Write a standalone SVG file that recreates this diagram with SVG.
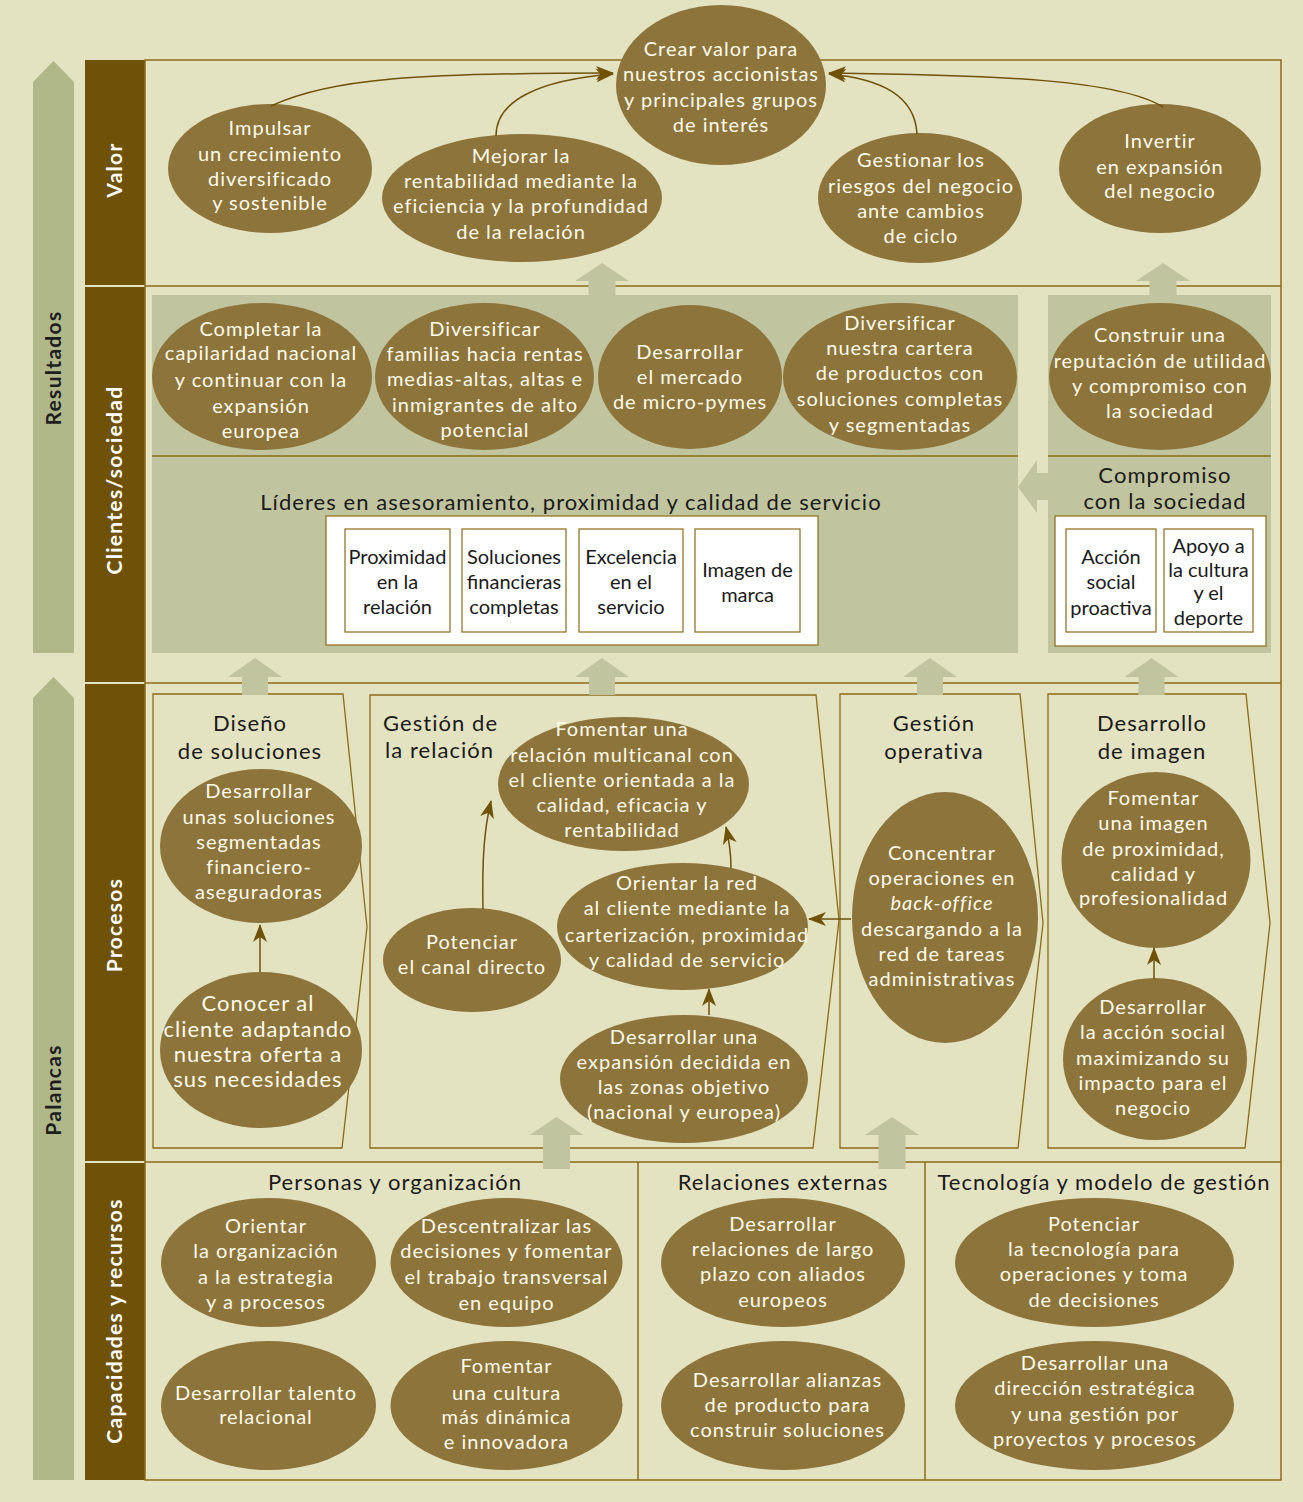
<svg xmlns="http://www.w3.org/2000/svg" width="1303" height="1502" viewBox="0 0 1303 1502">
<style>
.bg{fill:#E4E3C1}
.side{fill:#B0B88A}
.bar{fill:#6F5208}
.frame{fill:none;stroke:#8C6B16;stroke-width:1.5}
.panel{fill:#C0C59F}
.wbox{fill:#FFFFFF;stroke:#8C6B16;stroke-width:1.2}
.pbox{fill:none;stroke:#8C6B16;stroke-width:1.3}
.up{fill:#C0C59F}
.n{fill:#8D743B}
.t{font-family:Lato,"Open Sans",sans-serif;font-size:20px;letter-spacing:1px;fill:#FFFBEA;text-anchor:middle}
.tb{font-family:Lato,"Open Sans",sans-serif;font-size:22px;letter-spacing:1px;fill:#FFFBEA;text-anchor:middle}
.k{font-family:Lato,"Open Sans",sans-serif;font-size:20px;fill:#1A1A1A;text-anchor:middle}
.h{font-family:Lato,"Open Sans",sans-serif;font-size:22px;letter-spacing:1.05px;fill:#1A1A1A;text-anchor:middle}
.vl{font-family:Lato,"Open Sans",sans-serif;font-size:21px;font-weight:bold;letter-spacing:1.3px;text-anchor:middle}
.c{fill:none;stroke:#6F5208;stroke-width:1.5}
</style>
<defs>
<marker id="ah" viewBox="0 0 18 14" refX="17" refY="7" markerWidth="18" markerHeight="14" markerUnits="userSpaceOnUse" orient="auto">
<path d="M0,0 L18,7 L0,14 L5,7 Z" fill="#6F5208"/>
</marker>
</defs>
<rect class="bg" x="0" y="0" width="1303" height="1502"/>

<!-- side arrows -->
<polygon class="side" points="33,82 53.5,61 74,82 74,653 33,653"/>
<polygon class="side" points="33,698 53.5,677 74,698 74,1480 33,1480"/>
<text class="vl" fill="#1E1E1E" x="61" y="368" transform="rotate(-90 61 368)">Resultados</text>
<text class="vl" fill="#1E1E1E" x="61" y="1090" transform="rotate(-90 61 1090)">Palancas</text>

<!-- dark bar -->
<rect class="bar" x="85" y="60" width="60" height="225"/>
<rect class="bar" x="85" y="287" width="60" height="395"/>
<rect class="bar" x="85" y="684" width="60" height="477"/>
<rect class="bar" x="85" y="1163" width="60" height="317"/>
<text class="vl" fill="#FFFFFF" x="122" y="170" transform="rotate(-90 122 170)">Valor</text>
<text class="vl" fill="#FFFFFF" x="122" y="480" transform="rotate(-90 122 480)">Clientes/sociedad</text>
<text class="vl" fill="#FFFFFF" x="122" y="925" transform="rotate(-90 122 925)">Procesos</text>
<text class="vl" fill="#FFFFFF" x="122" y="1321" transform="rotate(-90 122 1321)">Capacidades y recursos</text>

<!-- panels -->
<rect class="panel" x="152" y="295" width="866" height="358"/>
<rect class="panel" x="1048" y="295" width="223" height="358"/>
<line class="frame" x1="152" y1="456" x2="1018" y2="456"/>
<line class="frame" x1="1048" y1="456" x2="1271" y2="456"/>
<polygon class="up" points="1018,487 1037,460 1037,473 1048,473 1048,500 1037,500 1037,513"/>

<!-- frame -->
<rect class="frame" x="145" y="60" width="1136" height="1420"/>
<line class="frame" x1="145" y1="286" x2="1281" y2="286"/>
<line class="frame" x1="145" y1="683" x2="1281" y2="683"/>
<line class="frame" x1="145" y1="1162" x2="1281" y2="1162"/>
<line class="frame" x1="638" y1="1162" x2="638" y2="1480"/>
<line class="frame" x1="925" y1="1162" x2="925" y2="1480"/>

<!-- white boxes -->
<g id="lideres">
<text class="h" x="571" y="510">Líderes en asesoramiento, proximidad y calidad de servicio</text>
<rect class="wbox" x="326" y="516" width="492" height="129"/>
<rect class="wbox" x="345" y="529" width="105" height="103"/>
<rect class="wbox" x="462" y="529" width="104" height="103"/>
<rect class="wbox" x="579" y="529" width="104" height="103"/>
<rect class="wbox" x="695" y="529" width="105" height="103"/>
<text class="k"><tspan x="397.5" y="564">Proximidad</tspan><tspan x="397.5" y="589">en la</tspan><tspan x="397.5" y="614">relación</tspan></text>
<text class="k"><tspan x="514" y="564">Soluciones</tspan><tspan x="514" y="589">financieras</tspan><tspan x="514" y="614">completas</tspan></text>
<text class="k"><tspan x="631" y="564">Excelencia</tspan><tspan x="631" y="589">en el</tspan><tspan x="631" y="614">servicio</tspan></text>
<text class="k"><tspan x="747.5" y="577">Imagen de</tspan><tspan x="747.5" y="602">marca</tspan></text>
</g>
<g id="compromiso">
<text class="h"><tspan x="1165" y="483">Compromiso</tspan><tspan x="1165" y="509">con la sociedad</tspan></text>
<rect class="wbox" x="1055" y="516" width="211" height="130"/>
<rect class="wbox" x="1066" y="529" width="90" height="103"/>
<rect class="wbox" x="1164" y="529" width="89" height="103"/>
<text class="k"><tspan x="1111" y="564">Acción</tspan><tspan x="1111" y="589">social</tspan><tspan x="1111" y="615">proactiva</tspan></text>
<text class="k"><tspan x="1208.5" y="553">Apoyo a</tspan><tspan x="1208.5" y="577">la cultura</tspan><tspan x="1208.5" y="600">y el</tspan><tspan x="1208.5" y="625">deporte</tspan></text>
</g>

<!-- process boxes -->
<g id="p-diseno">
<polygon class="pbox" points="153,694 343,694 367,927 342,1148 153,1148"/>
<text class="h"><tspan x="250" y="731">Diseño</tspan><tspan x="250" y="759">de soluciones</tspan></text>
</g>
<g id="p-relacion">
<polygon class="pbox" points="370,695 816,695 839,920 813,1148 370,1148"/>
<text class="h" style="text-anchor:start"><tspan x="383" y="731">Gestión de</tspan><tspan x="385" y="758">la relación</tspan></text>
</g>
<g id="p-operativa">
<polygon class="pbox" points="840,694 1020,694 1043,923 1018,1148 840,1148"/>
<text class="h"><tspan x="934" y="731">Gestión</tspan><tspan x="934" y="759">operativa</tspan></text>
</g>
<g id="p-imagen">
<polygon class="pbox" points="1048,694 1246,694 1270,923 1245,1148 1048,1148"/>
<text class="h"><tspan x="1152" y="731">Desarrollo</tspan><tspan x="1152" y="759">de imagen</tspan></text>
</g>

<!-- capacity headers -->
<text class="h" x="395" y="1190">Personas y organización</text>
<text class="h" x="783" y="1190">Relaciones externas</text>
<text class="h" x="1104" y="1190">Tecnología y modelo de gestión</text>

<!-- big up arrows -->
<g id="flow-arrows">
<polygon class="up" points="602,263 629,281 615.5,281 615.5,296 588.5,296 588.5,281 575,281"/>
<polygon class="up" points="1163,263 1190,281 1176.5,281 1176.5,296 1149.5,296 1149.5,281 1136,281"/>
<polygon class="up" points="255,658 282,677 268,677 268,695 242,695 242,677 228,677"/>
<polygon class="up" points="602,658 629,677 615,677 615,695 589,695 589,677 575,677"/>
<polygon class="up" points="930,658 957,677 943,677 943,695 917,695 917,677 903,677"/>
<polygon class="up" points="1151.5,658 1178.5,677 1164.5,677 1164.5,695 1138.5,695 1138.5,677 1124.5,677"/>
<polygon class="up" points="556.5,1117 583.5,1135 570,1135 570,1169 543,1169 543,1135 529.5,1135"/>
<polygon class="up" points="892,1117 919,1135 905.5,1135 905.5,1169 878.5,1169 878.5,1135 865,1135"/>
</g>

<!-- Valor nodes -->
<g id="v-crear"><ellipse class="n" cx="721" cy="85" rx="105" ry="80"/>
<text class="t"><tspan x="721" y="56">Crear valor para</tspan><tspan x="721" y="81">nuestros accionistas</tspan><tspan x="721" y="107">y principales grupos</tspan><tspan x="721" y="132">de interés</tspan></text></g>
<g id="v-impulsar"><ellipse class="n" cx="270" cy="168.5" rx="102" ry="64.5"/>
<text class="t"><tspan x="270" y="135">Impulsar</tspan><tspan x="270" y="161">un crecimiento</tspan><tspan x="270" y="186">diversificado</tspan><tspan x="270" y="210">y sostenible</tspan></text></g>
<g id="v-mejorar"><ellipse class="n" cx="522" cy="198" rx="140" ry="64"/>
<text class="t"><tspan x="521" y="163">Mejorar la</tspan><tspan x="521" y="188">rentabilidad mediante la</tspan><tspan x="521" y="213">eficiencia y la profundidad</tspan><tspan x="521" y="239">de la relación</tspan></text></g>
<g id="v-gestionar"><ellipse class="n" cx="920" cy="198" rx="102" ry="65"/>
<text class="t"><tspan x="921" y="167">Gestionar los</tspan><tspan x="921" y="193">riesgos del negocio</tspan><tspan x="921" y="218">ante cambios</tspan><tspan x="921" y="243">de ciclo</tspan></text></g>
<g id="v-invertir"><ellipse class="n" cx="1160" cy="168.5" rx="101" ry="64.5"/>
<text class="t"><tspan x="1160" y="148">Invertir</tspan><tspan x="1160" y="174">en expansión</tspan><tspan x="1160" y="198">del negocio</tspan></text></g>

<!-- Clientes nodes -->
<g id="c-completar"><ellipse class="n" cx="262" cy="376.5" rx="110" ry="73.5"/>
<text class="t"><tspan x="261" y="336">Completar la</tspan><tspan x="261" y="360">capilaridad nacional</tspan><tspan x="261" y="387">y continuar con la</tspan><tspan x="261" y="413">expansión</tspan><tspan x="261" y="438">europea</tspan></text></g>
<g id="c-diversificar"><ellipse class="n" cx="484.5" cy="376.5" rx="109.5" ry="73.5"/>
<text class="t"><tspan x="485" y="336">Diversificar</tspan><tspan x="485" y="361">familias hacia rentas</tspan><tspan x="485" y="386">medias-altas, altas e</tspan><tspan x="485" y="412">inmigrantes de alto</tspan><tspan x="485" y="437">potencial</tspan></text></g>
<g id="c-micro"><ellipse class="n" cx="690" cy="377" rx="92" ry="72"/>
<text class="t"><tspan x="690" y="359">Desarrollar</tspan><tspan x="690" y="384">el mercado</tspan><tspan x="690" y="409">de micro-pymes</tspan></text></g>
<g id="c-cartera"><ellipse class="n" cx="900" cy="376.5" rx="117" ry="73.5"/>
<text class="t"><tspan x="900" y="330">Diversificar</tspan><tspan x="900" y="355">nuestra cartera</tspan><tspan x="900" y="380">de productos con</tspan><tspan x="900" y="406">soluciones completas</tspan><tspan x="900" y="432">y segmentadas</tspan></text></g>
<g id="c-reputacion"><ellipse class="n" cx="1160" cy="376.5" rx="111" ry="73.5"/>
<text class="t"><tspan x="1160" y="342">Construir una</tspan><tspan x="1160" y="368">reputación de utilidad</tspan><tspan x="1160" y="393">y compromiso con</tspan><tspan x="1160" y="418">la sociedad</tspan></text></g>

<!-- Procesos nodes -->
<g id="p-desarrollar-sol"><ellipse class="n" cx="261" cy="846" rx="101" ry="77"/>
<text class="t"><tspan x="259" y="798">Desarrollar</tspan><tspan x="259" y="824">unas soluciones</tspan><tspan x="259" y="849">segmentadas</tspan><tspan x="259" y="874">financiero-</tspan><tspan x="259" y="899">aseguradoras</tspan></text></g>
<g id="p-conocer"><ellipse class="n" cx="261" cy="1050" rx="101" ry="78"/>
<text class="tb"><tspan x="258" y="1011">Conocer al</tspan><tspan x="258" y="1037">cliente adaptando</tspan><tspan x="258" y="1062">nuestra oferta a</tspan><tspan x="258" y="1087">sus necesidades</tspan></text></g>
<g id="p-multicanal"><ellipse class="n" cx="623.5" cy="784" rx="125.5" ry="67"/>
<text class="t"><tspan x="622" y="736">Fomentar una</tspan><tspan x="622" y="762">relación multicanal con</tspan><tspan x="622" y="787">el cliente orientada a la</tspan><tspan x="622" y="812">calidad, eficacia y</tspan><tspan x="622" y="837">rentabilidad</tspan></text></g>
<g id="p-canal"><ellipse class="n" cx="472" cy="960" rx="89" ry="52"/>
<text class="t"><tspan x="472" y="949">Potenciar</tspan><tspan x="472" y="974">el canal directo</tspan></text></g>
<g id="p-red"><ellipse class="n" cx="682.5" cy="926.5" rx="125.5" ry="63.5"/>
<text class="t"><tspan x="687" y="890">Orientar la red</tspan><tspan x="687" y="915">al cliente mediante la</tspan><tspan x="687" y="942">carterización, proximidad</tspan><tspan x="687" y="967">y calidad de servicio</tspan></text></g>
<g id="p-expansion"><ellipse class="n" cx="684" cy="1079" rx="124" ry="64"/>
<text class="t"><tspan x="684" y="1044">Desarrollar una</tspan><tspan x="684" y="1069">expansión decidida en</tspan><tspan x="684" y="1094">las zonas objetivo</tspan><tspan x="684" y="1119">(nacional y europea)</tspan></text></g>
<g id="p-concentrar"><ellipse class="n" cx="945" cy="917.5" rx="93" ry="125.5"/>
<text class="t"><tspan x="942" y="860">Concentrar</tspan><tspan x="942" y="885">operaciones en</tspan><tspan x="942" y="910" font-style="italic">back-office</tspan><tspan x="942" y="936">descargando a la</tspan><tspan x="942" y="961">red de tareas</tspan><tspan x="942" y="986">administrativas</tspan></text></g>
<g id="p-fomentar-imagen"><ellipse class="n" cx="1156" cy="860" rx="94.5" ry="88"/>
<text class="t"><tspan x="1153.5" y="805">Fomentar</tspan><tspan x="1153.5" y="830">una imagen</tspan><tspan x="1153.5" y="856">de proximidad,</tspan><tspan x="1153.5" y="881">calidad y</tspan><tspan x="1153.5" y="905">profesionalidad</tspan></text></g>
<g id="p-accion-social"><ellipse class="n" cx="1155" cy="1059" rx="92" ry="81"/>
<text class="t"><tspan x="1153" y="1014">Desarrollar</tspan><tspan x="1153" y="1039">la acción social</tspan><tspan x="1153" y="1065">maximizando su</tspan><tspan x="1153" y="1090">impacto para el</tspan><tspan x="1153" y="1115">negocio</tspan></text></g>

<!-- Capacidades nodes -->
<g id="k-orientar"><ellipse class="n" cx="268.5" cy="1262.5" rx="107.5" ry="64.5"/>
<text class="t"><tspan x="266" y="1233">Orientar</tspan><tspan x="266" y="1258">la organización</tspan><tspan x="266" y="1284">a la estrategia</tspan><tspan x="266" y="1309">y a procesos</tspan></text></g>
<g id="k-descentralizar"><ellipse class="n" cx="506.5" cy="1262.5" rx="116" ry="64.5"/>
<text class="t"><tspan x="506.5" y="1233">Descentralizar las</tspan><tspan x="506.5" y="1258">decisiones y fomentar</tspan><tspan x="506.5" y="1284">el trabajo transversal</tspan><tspan x="506.5" y="1310">en equipo</tspan></text></g>
<g id="k-talento"><ellipse class="n" cx="268.5" cy="1405.5" rx="107.5" ry="64.5"/>
<text class="t"><tspan x="266" y="1400">Desarrollar talento</tspan><tspan x="266" y="1424">relacional</tspan></text></g>
<g id="k-cultura"><ellipse class="n" cx="506.5" cy="1405.5" rx="116" ry="64.5"/>
<text class="t"><tspan x="506.5" y="1373">Fomentar</tspan><tspan x="506.5" y="1400">una cultura</tspan><tspan x="506.5" y="1424">más dinámica</tspan><tspan x="506.5" y="1449">e innovadora</tspan></text></g>
<g id="k-relaciones"><ellipse class="n" cx="783" cy="1262.5" rx="122" ry="64.5"/>
<text class="t"><tspan x="783" y="1231">Desarrollar</tspan><tspan x="783" y="1256">relaciones de largo</tspan><tspan x="783" y="1281">plazo con aliados</tspan><tspan x="783" y="1307">europeos</tspan></text></g>
<g id="k-alianzas"><ellipse class="n" cx="783" cy="1405.5" rx="122" ry="64.5"/>
<text class="t"><tspan x="787.5" y="1387">Desarrollar alianzas</tspan><tspan x="787.5" y="1412">de producto para</tspan><tspan x="787.5" y="1437">construir soluciones</tspan></text></g>
<g id="k-tecnologia"><ellipse class="n" cx="1094.5" cy="1262.5" rx="139.5" ry="64.5"/>
<text class="t"><tspan x="1094" y="1231">Potenciar</tspan><tspan x="1094" y="1256">la tecnología para</tspan><tspan x="1094" y="1281">operaciones y toma</tspan><tspan x="1094" y="1307">de decisiones</tspan></text></g>
<g id="k-direccion"><ellipse class="n" cx="1094.5" cy="1405.5" rx="139.5" ry="64.5"/>
<text class="t"><tspan x="1095" y="1370">Desarrollar una</tspan><tspan x="1095" y="1395">dirección estratégica</tspan><tspan x="1095" y="1421">y una gestión por</tspan><tspan x="1095" y="1446">proyectos y procesos</tspan></text></g>

<!-- connectors -->
<g id="connectors">
<path class="c" d="M271,106 C330,78 420,73 613,73" marker-end="url(#ah)"/>
<path class="c" d="M496,136 C496,100 540,80 613,74" marker-end="url(#ah)"/>
<path class="c" d="M917,134 C915,96 882,79 829,74" marker-end="url(#ah)"/>
<path class="c" d="M1163,107 C1120,80 1000,75 829,73" marker-end="url(#ah)"/>
<path class="c" d="M260,972 L260,925" marker-end="url(#ah)"/>
<path class="c" d="M483,909 C482,860 484,830 491,801" marker-end="url(#ah)"/>
<path class="c" d="M731,868 C731,852 729,840 726,827" marker-end="url(#ah)"/>
<path class="c" d="M709,1015 L709,989" marker-end="url(#ah)"/>
<path class="c" d="M851,919 L809,919" marker-end="url(#ah)"/>
<path class="c" d="M1154,979 L1154,948" marker-end="url(#ah)"/>
</g>
</svg>
